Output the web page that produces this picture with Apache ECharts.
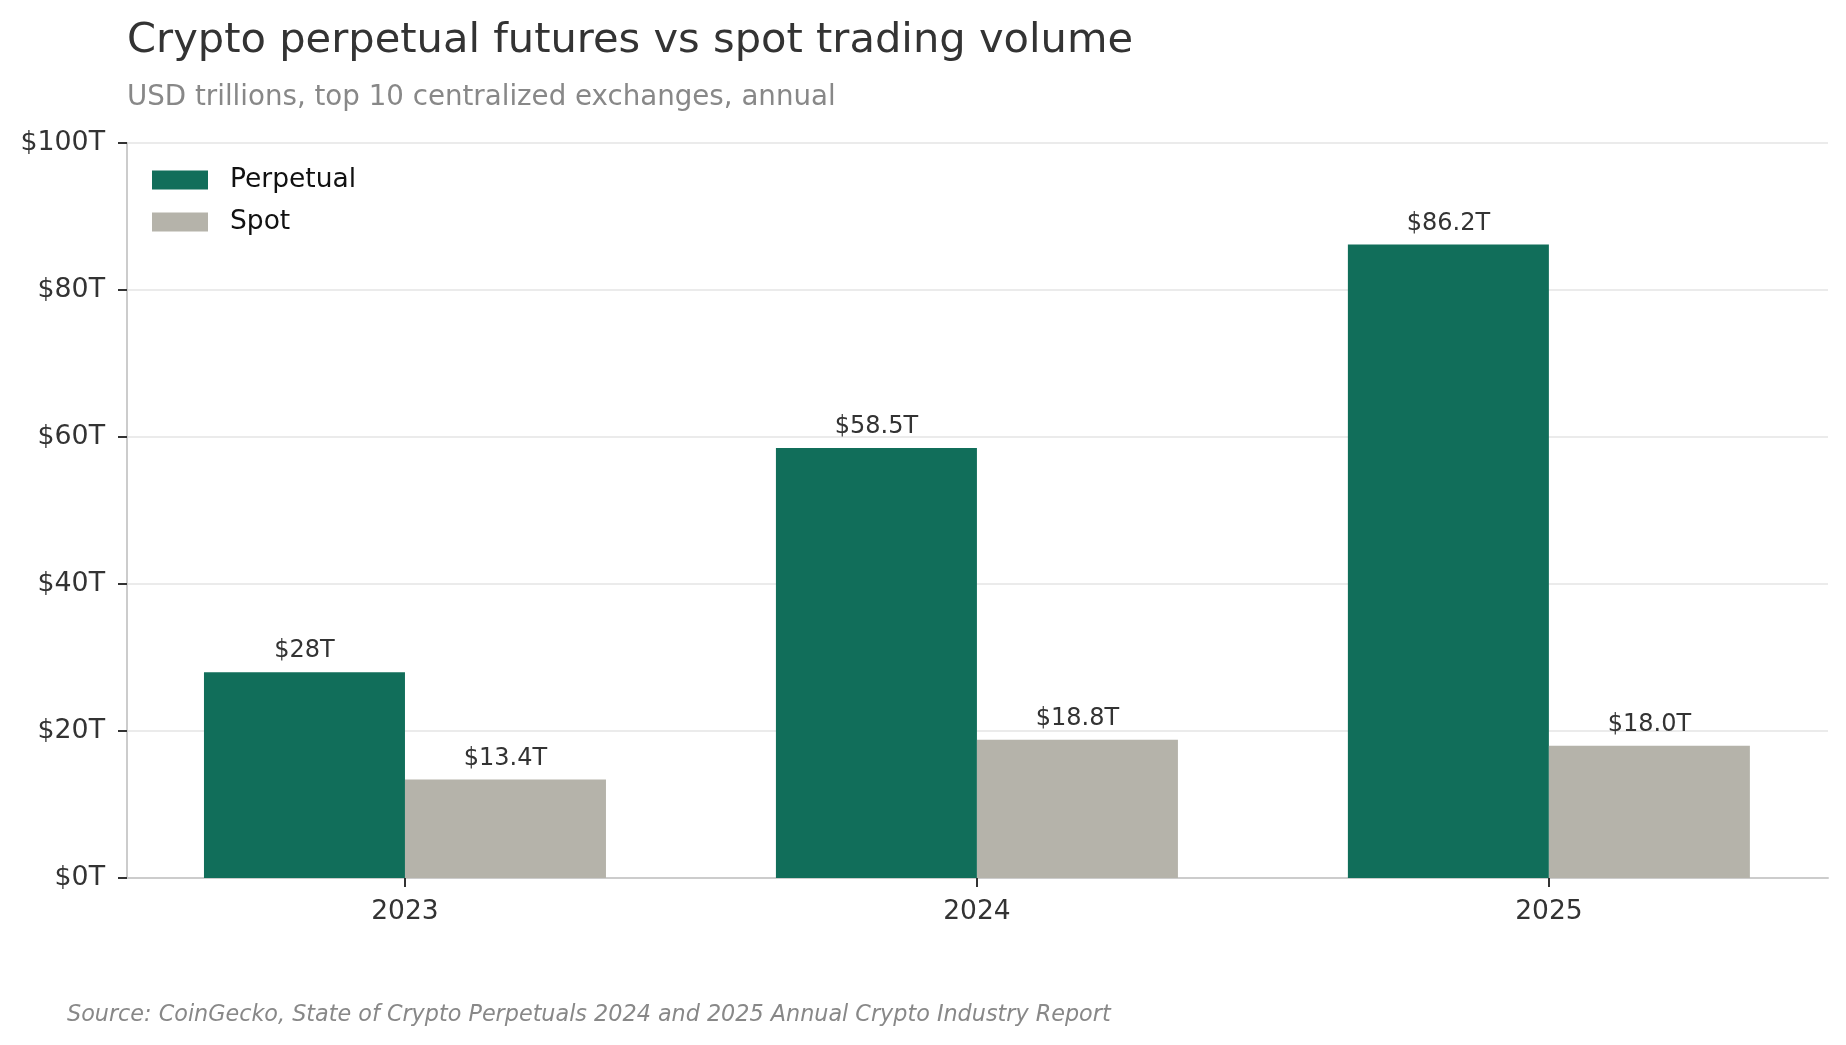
<!DOCTYPE html>
<html>
<head>
<meta charset="utf-8">
<title>Crypto perpetual futures vs spot trading volume</title>
<script src="https://cdn.jsdelivr.net/npm/echarts@6/dist/echarts.min.js"></script>
<style>
  html, body { margin: 0; padding: 0; background: #fff; }
  #chart { width: 1846px; height: 1045px; }
</style>
</head>
<body>
<div id="chart"></div>
<script>
// data
const years = ['2023', '2024', '2025'];
const perpetual = [28, 58.5, 86.2];
const spot = [13.4, 18.8, 18.0];
const perpetualLabels = ['$28T', '$58.5T', '$86.2T'];
const spotLabels = ['$13.4T', '$18.8T', '$18.0T'];
const yTicks = [0, 20, 40, 60, 80, 100];

const font = 'DejaVu Sans';
const green = '#116e5a';
const grey = '#b5b3aa';

const chart = echarts.init(document.getElementById('chart'));

const option = {
    animation: false,
    backgroundColor: '#fff',
    textStyle: { fontFamily: font },
    title: [{
        text: 'Crypto perpetual futures vs spot trading volume',
        left: 127,
        top: 16,
        padding: 0,
        textStyle: { fontFamily: font, fontSize: 41.6, fontWeight: 'normal', color: '#333', lineHeight: 50 }
    }, {
        text: 'USD trillions, top 10 centralized exchanges, annual',
        left: 127,
        top: 82,
        padding: 0,
        textStyle: { fontFamily: font, fontSize: 27.7, fontWeight: 'normal', color: '#888', lineHeight: 32 }
    }, {
        text: 'Source: CoinGecko, State of Crypto Perpetuals 2024 and 2025 Annual Crypto Industry Report',
        left: 67,
        top: 1002,
        padding: 0,
        textStyle: { fontFamily: font, fontSize: 22.3, fontStyle: 'italic', fontWeight: 'normal', color: '#888', lineHeight: 26 }
    }],
    legend: {
        orient: 'vertical',
        left: 152,
        top: 166,
        padding: 0,
        icon: 'rect',
        itemWidth: 56,
        itemHeight: 19,
        itemGap: 14,
        textStyle: { fontFamily: font, fontSize: 26.5, color: '#111', lineHeight: 28, padding: [0, 0, 0, 17] },
        data: ['Perpetual', 'Spot']
    },
    grid: { left: 127, right: 18, top: 143, bottom: 167 },
    xAxis: {
        type: 'value',
        min: -0.486,
        max: 2.488,
        axisLine: { show: true, onZero: false, lineStyle: { color: '#cccccc', width: 2 } },
        axisTick: { show: true, customValues: [0, 1, 2], length: 9, lineStyle: { color: '#333', width: 2 } },
        axisLabel: {
            customValues: [0, 1, 2],
            formatter: v => years[Math.round(v)],
            fontFamily: font, fontSize: 26.5, color: '#333', margin: 21
        },
        splitLine: { show: false }
    },
    yAxis: {
        type: 'value',
        min: yTicks[0],
        max: yTicks[yTicks.length - 1],
        interval: 20,
        axisLine: { show: true, onZero: false, lineStyle: { color: '#cccccc', width: 2 } },
        axisTick: { show: true, length: 9, lineStyle: { color: '#333', width: 2 } },
        axisLabel: {
            formatter: v => '$' + v + 'T',
            fontFamily: font, fontSize: 26.8, color: '#333', margin: 22
        },
        splitLine: { show: true, lineStyle: { color: '#ebebeb', width: 2 } }
    },
    series: [{
        name: 'Perpetual',
        type: 'bar',
        barWidth: 201,
        barGap: '0%',
        itemStyle: { color: green },
        label: {
            show: true, position: 'top', distance: 9,
            formatter: p => perpetualLabels[p.dataIndex],
            fontFamily: font, fontSize: 24, color: '#333'
        },
        data: perpetual.map((v, i) => [i, v])
    }, {
        name: 'Spot',
        type: 'bar',
        barWidth: 201,
        barGap: '0%',
        itemStyle: { color: grey },
        label: {
            show: true, position: 'top', distance: 9,
            formatter: p => spotLabels[p.dataIndex],
            fontFamily: font, fontSize: 24, color: '#333'
        },
        data: spot.map((v, i) => [i, v])
    }]
};

chart.setOption(option);
</script>
</body>
</html>
